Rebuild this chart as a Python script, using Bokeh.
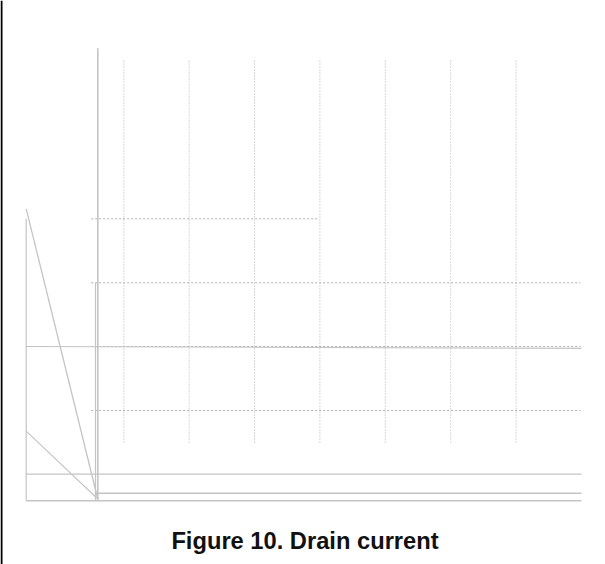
from bokeh.plotting import figure
from bokeh.models import Range1d, ColumnDataSource
from bokeh.embed import file_html
from bokeh.resources import INLINE
from bokeh.core.properties import value

# Grid (dotted) lines, in the figure's own drawing units
grid_v_x = [123.3, 188.7, 254.0, 319.4, 384.8, 450.2, 515.6]
grid_v_y0 = [60.0] * 7
grid_v_y1 = [442.0] * 7

grid_h_y = [218.3, 282.3, 346.0, 410.0]
grid_h_x0 = [90.7, 90.7, 90.7, 90.7]
grid_h_x1 = [317.0, 580.0, 580.0, 580.0]

# Solid frame / curve segments
seg_x0 = [97.3, 95.0, 25.7, 25.7, 25.7, 25.7, 25.7, 97.3, 25.7]
seg_y0 = [47.7, 282.3, 218.3, 208.3, 430.7, 346.0, 473.7, 492.7, 500.3]
seg_x1 = [97.3, 95.0, 25.7, 97.3, 97.3, 581.0, 581.0, 581.0, 581.0]
seg_y1 = [500.3, 500.3, 500.3, 498.5, 498.5, 347.8, 473.7, 492.7, 500.3]
seg_w = [1.6, 1.2, 1.2, 1.3, 1.1, 1.2, 1.2, 1.4, 1.6]

# Dark edge band at the left of the scan
band_left = [0.0]
band_right = [2.0]
band_top = [0.0]
band_bottom = [564.0]

title_text = ["Figure 10. Drain current"]
title_x = [304.5]
title_y = [540.3]

p = figure(width=605, height=564, output_backend="svg", toolbar_location=None,
           x_range=Range1d(0, 605), y_range=Range1d(564, 0),
           min_border=0, min_border_left=0, min_border_right=0,
           min_border_top=0, min_border_bottom=0)
p.axis.visible = False
p.grid.visible = False
p.outline_line_color = None
p.background_fill_color = "white"
p.border_fill_color = "white"

p.quad(left=band_left, right=band_right, top=band_top, bottom=band_bottom,
       fill_color="black", line_color=None)

p.segment(x0=grid_v_x, y0=grid_v_y0, x1=grid_v_x, y1=grid_v_y1,
          line_color="#b0b0b0", line_width=1, line_dash="1 2")
p.segment(x0=grid_h_x0, y0=grid_h_y, x1=grid_h_x1, y1=grid_h_y,
          line_color="#b0b0b0", line_width=1, line_dash="2 2")

src = ColumnDataSource(dict(x0=seg_x0, y0=seg_y0, x1=seg_x1, y1=seg_y1, w=seg_w))
p.segment(x0="x0", y0="y0", x1="x1", y1="y1", line_width="w",
          line_color="#c4c4c4", source=src)

p.text(x=title_x, y=title_y, text=title_text, text_align="center",
       text_baseline="alphabetic", text_font=value("Liberation Sans"),
       text_font_style="bold", text_font_size="23.7px", text_color="#111111")

open("out.html", "w").write(file_html(p, INLINE))
